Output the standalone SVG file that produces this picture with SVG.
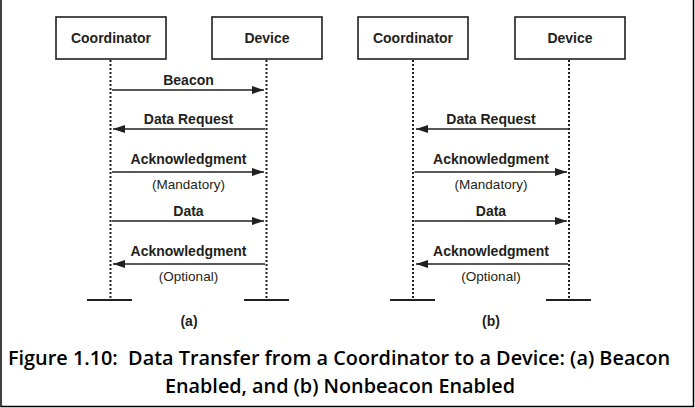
<svg xmlns="http://www.w3.org/2000/svg" width="695" height="408" viewBox="0 0 695 408">
<style>
.box{fill:#fff;stroke:#231f20;stroke-width:1.6}
.life{stroke:#231f20;stroke-width:2;stroke-dasharray:2 2;fill:none}
.bar{stroke:#231f20;stroke-width:2}
.msg{stroke:#231f20;stroke-width:1.5;fill:none}
.t{font-family:"Liberation Sans",Arial,sans-serif;font-weight:bold;font-size:14px;fill:#231f20;text-anchor:middle}
.n{font-family:"Liberation Sans",Arial,sans-serif;font-size:13.5px;fill:#231f20;text-anchor:middle}
.cap{font-family:"Open Sans","Noto Sans",sans-serif;font-weight:600;font-size:19px;fill:#000;text-anchor:middle}
</style>
<defs>
<marker id="ah" viewBox="0 0 12 8" refX="12" refY="4" markerWidth="12" markerHeight="8" markerUnits="userSpaceOnUse" orient="auto">
<path d="M0,0 L12,4 L0,8 Z" fill="#231f20"/>
</marker>
</defs>
<rect width="695" height="408" fill="#fff"/>
<path d="M1,0 V406.5 H693.5 V0" fill="none" stroke="#000" stroke-width="1.5"/>

<g id="a-coordinator"><rect class="box" x="56" y="17" width="110" height="42"/><text class="t" x="111" y="43">Coordinator</text><line class="life" x1="110.5" y1="60" x2="110.5" y2="299"/><line class="bar" x1="87" y1="300" x2="132" y2="300"/></g>
<g id="a-device"><rect class="box" x="212" y="17" width="110" height="42"/><text class="t" x="267" y="43">Device</text><line class="life" x1="266.5" y1="60" x2="266.5" y2="299"/><line class="bar" x1="244" y1="300" x2="289" y2="300"/></g>
<g id="b-coordinator"><rect class="box" x="358" y="17" width="110" height="42"/><text class="t" x="413" y="43">Coordinator</text><line class="life" x1="413" y1="60" x2="413" y2="299"/><line class="bar" x1="390" y1="300" x2="435" y2="300"/></g>
<g id="b-device"><rect class="box" x="515" y="17" width="110" height="42"/><text class="t" x="570" y="43">Device</text><line class="life" x1="569" y1="60" x2="569" y2="299"/><line class="bar" x1="546" y1="300" x2="591" y2="300"/></g>

<g id="connectors">
<line class="msg" x1="112" y1="90" x2="264" y2="90" marker-end="url(#ah)"/>
<line class="msg" x1="265" y1="129" x2="113" y2="129" marker-end="url(#ah)"/>
<line class="msg" x1="112" y1="172" x2="264" y2="172" marker-end="url(#ah)"/>
<line class="msg" x1="112" y1="221" x2="264" y2="221" marker-end="url(#ah)"/>
<line class="msg" x1="265" y1="264" x2="113" y2="264" marker-end="url(#ah)"/>

<line class="msg" x1="568" y1="129" x2="416" y2="129" marker-end="url(#ah)"/>
<line class="msg" x1="414.5" y1="172" x2="567" y2="172" marker-end="url(#ah)"/>
<line class="msg" x1="414.5" y1="221" x2="567" y2="221" marker-end="url(#ah)"/>
<line class="msg" x1="568" y1="264" x2="416" y2="264" marker-end="url(#ah)"/>
</g>

<g id="labels">
<text class="t" x="188.5" y="85">Beacon</text>
<text class="t" x="188.5" y="124">Data Request</text>
<text class="t" x="188.5" y="164">Acknowledgment</text>
<text class="n" x="188.5" y="189">(Mandatory)</text>
<text class="t" x="188.5" y="216">Data</text>
<text class="t" x="188.5" y="256">Acknowledgment</text>
<text class="n" x="188.5" y="281">(Optional)</text>
<text class="t" x="189" y="326">(a)</text>

<text class="t" x="491" y="124">Data Request</text>
<text class="t" x="491" y="164">Acknowledgment</text>
<text class="n" x="491" y="189">(Mandatory)</text>
<text class="t" x="491" y="216">Data</text>
<text class="t" x="491" y="256">Acknowledgment</text>
<text class="n" x="491" y="281">(Optional)</text>
<text class="t" x="491" y="326">(b)</text>

<text class="cap" x="339" y="365" textLength="662" lengthAdjust="spacingAndGlyphs" xml:space="preserve">Figure 1.10:  Data Transfer from a Coordinator to a Device: (a) Beacon</text>
<text class="cap" x="340" y="393" textLength="350" lengthAdjust="spacingAndGlyphs">Enabled, and (b) Nonbeacon Enabled</text>
</g>
</svg>
